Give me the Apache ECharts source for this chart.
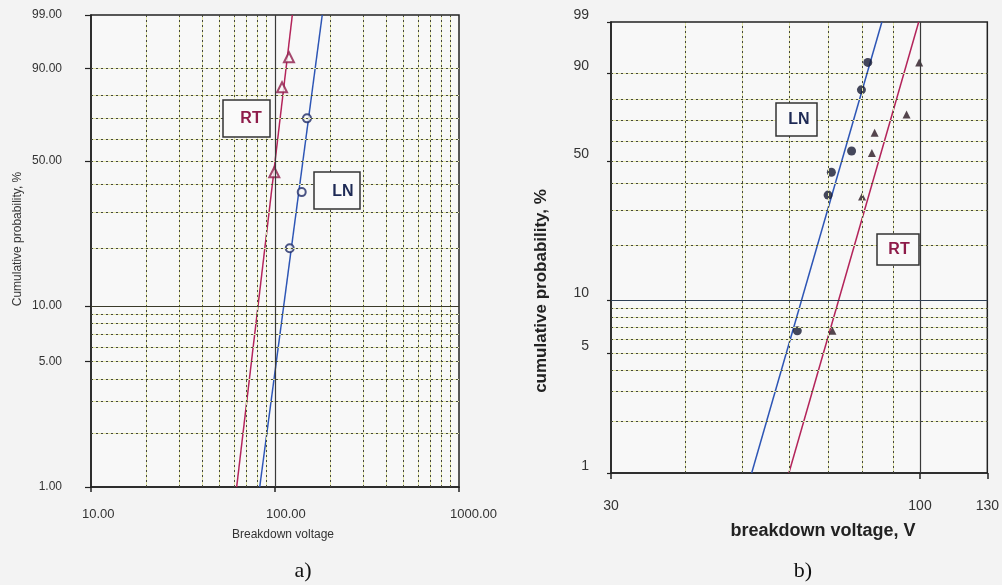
<!DOCTYPE html>
<html>
<head>
<meta charset="utf-8">
<title>Weibull breakdown plots</title>
<script src="https://cdn.jsdelivr.net/npm/echarts@6/dist/echarts.min.js"></script>
<style>
  html, body { margin: 0; padding: 0; background: #f3f3f3; }
  #main { width: 1002px; height: 585px; }
</style>
</head>
<body>
<div id="main"></div>
<script>
// ---- data (voltages in V, probabilities in %) ----
var probLabels = [1, 5, 10, 50, 90, 99];
var probGrid = [2, 3, 4, 5, 6, 7, 8, 9, 20, 30, 40, 50, 60, 70, 80, 90];
var voltGridA = [20, 30, 40, 50, 60, 70, 80, 90, 200, 300, 400, 500, 600, 700, 800, 900];
var voltGridB = [40, 50, 60, 70, 80, 90];
var voltLabelsB = [30, 100, 130];

// a) fitted lines (ends at 1 % and 99 %) and points
var fitP = [1, 99];
var rtA_fitV = [61.9, 124.2];
var lnA_fitV = [82.6, 180.6];
var rtA_V = [99.1, 109.2, 119.1];
var rtA_P = [45, 83.5, 93];
var lnA_V = [120.2, 139.7, 149.2];
var lnA_P = [20, 37, 70];

// b)
var lnB_fitV = [51.9, 86.2];
var rtB_fitV = [60.0, 99.5];
var lnB_V = [62.0, 69.9, 70.8, 76.6, 79.6, 81.6];
var lnB_P = [6.7, 35.5, 45, 55, 84, 93];
var rtB_V = [71.1, 79.8, 82.9, 83.8, 94.9, 99.7];
var rtB_P = [6.7, 35, 54, 64, 73, 93];

// weibull probability scale
function wb(p) { return Math.log(-Math.log(1 - p / 100)); }
function wbInv(w) { return (1 - Math.exp(-Math.exp(w))) * 100; }
function pairs(xs, ps) {
    var out = [];
    for (var i = 0; i < xs.length; i++) out.push([xs[i], wb(ps[i])]);
    return out;
}

var RED = '#b3245a', BLUE = '#2d55b5';
var FONT = '"Liberation Sans", Arial, sans-serif';

function gridMarks(xs, ys, solidX, solidY, solidColorY) {
    var d = [];
    xs.forEach(function (v) { d.push({ xAxis: v }); });
    ys.forEach(function (v) { d.push({ yAxis: wb(v) }); });
    var solid = [];
    solidX.forEach(function (v) { solid.push({ xAxis: v, lineStyle: { color: '#3a3a3a', type: 'solid', width: 1.2 } }); });
    solidY.forEach(function (v) { solid.push({ yAxis: wb(v), lineStyle: { color: solidColorY, type: 'solid', width: 1.2 } }); });
    return { dots: d, solid: solid };
}

var gA = gridMarks(voltGridA, probGrid, [100], [10], '#3a3a2a');
var gB = gridMarks(voltGridB, probGrid, [100], [10], '#2f3f55');

function helper(idx, marks, under) {
    return {
        type: 'line', xAxisIndex: idx, yAxisIndex: idx, data: [], silent: true, z: under ? 1 : 2,
        markLine: {
            silent: true, symbol: 'none', label: { show: false }, animation: false,
            lineStyle: under ? { color: '#e4e7a8', type: 'solid', width: 1 } : { color: '#45473c', type: [2, 3], width: 1 },
            data: marks
        }
    };
}

var yLabelA = {
    customValues: probLabels.map(wb),
    formatter: function (v) { return wbInv(v).toFixed(2); },
    fontFamily: FONT, fontSize: 12, color: '#333', margin: 29
};
var yLabelB = {
    customValues: probLabels.map(wb),
    formatter: function (v) { return String(Math.round(wbInv(v))); },
    fontFamily: FONT, fontSize: 14, color: '#333', margin: 22, verticalAlign: 'bottom'
};

var option = {
    backgroundColor: '#f3f3f3',
    animation: false,
    grid: [
        { left: 91, top: 15, width: 368, height: 472, show: true, backgroundColor: '#f8f8f8', borderColor: '#222', borderWidth: 1.5 },
        { left: 611, top: 22, width: 382, height: 451, show: true, backgroundColor: '#f8f8f8', borderColor: '#222', borderWidth: 1.5 }
    ],
    xAxis: [
        {
            type: 'log', logBase: 10, min: 10, max: 1000, gridIndex: 0,
            axisLine: { onZero: false, lineStyle: { color: '#222', width: 1.5 } },
            axisTick: { show: true, length: 5, lineStyle: { color: '#222', width: 1.5 } },
            axisLabel: { formatter: function (v) { return v.toFixed(2); }, fontFamily: FONT, fontSize: 13, color: '#333', margin: 21, align: 'left', padding: [0, 0, 0, -9] },
            splitLine: { show: false }, minorTick: { show: false }
        },
        {
            type: 'log', logBase: 10, min: 30, max: 130, gridIndex: 1,
            axisLine: { onZero: false, lineStyle: { color: '#222', width: 1.5 } },
            axisTick: { show: true, length: 6, customValues: voltLabelsB, lineStyle: { color: '#222', width: 1.5 } },
            axisLabel: { customValues: voltLabelsB, formatter: function (v) { return String(Math.round(v)); }, fontFamily: FONT, fontSize: 14, color: '#333', margin: 26 },
            splitLine: { show: false }
        }
    ],
    yAxis: [
        {
            type: 'value', min: wb(1), max: wb(99), gridIndex: 0,
            axisLine: { show: true, onZero: false, lineStyle: { color: '#222', width: 1.5 } },
            axisTick: { show: true, length: 6, customValues: probLabels.map(wb), lineStyle: { color: '#222', width: 1.2 } },
            axisLabel: yLabelA,
            splitLine: { show: false }
        },
        {
            type: 'value', min: wb(1), max: wb(99), gridIndex: 1,
            axisLine: { show: true, onZero: false, lineStyle: { color: '#222', width: 1.5 } },
            axisTick: { show: true, length: 4, customValues: probLabels.map(wb), lineStyle: { color: '#222', width: 1.2 } },
            axisLabel: yLabelB,
            splitLine: { show: false }
        }
    ],
    series: [
        helper(0, gA.dots, true),
        helper(0, gA.dots.concat(gA.solid), false),
        helper(1, gB.dots, true),
        helper(1, gB.dots.concat(gB.solid), false),
        // a)
        { name: 'RT fit a', type: 'line', xAxisIndex: 0, yAxisIndex: 0, z: 3, showSymbol: false, data: pairs(rtA_fitV, fitP), lineStyle: { color: RED, width: 1.5 } },
        { name: 'LN fit a', type: 'line', xAxisIndex: 0, yAxisIndex: 0, z: 3, showSymbol: false, data: pairs(lnA_fitV, fitP), lineStyle: { color: BLUE, width: 1.5 } },
        { name: 'RT a', type: 'scatter', xAxisIndex: 0, yAxisIndex: 0, z: 4, symbol: 'triangle', symbolSize: 10, data: pairs(rtA_V, rtA_P), itemStyle: { color: '#f8f8f8', borderColor: '#8e1c4a', borderWidth: 2 } },
        { name: 'LN a', type: 'scatter', xAxisIndex: 0, yAxisIndex: 0, z: 4, symbol: 'circle', symbolSize: 8, data: pairs(lnA_V, lnA_P), itemStyle: { color: '#f8f8f8', borderColor: '#1e2a66', borderWidth: 2 } },
        // b)
        { name: 'LN fit b', type: 'line', xAxisIndex: 1, yAxisIndex: 1, z: 3, showSymbol: false, data: pairs(lnB_fitV, fitP), lineStyle: { color: BLUE, width: 1.5 } },
        { name: 'RT fit b', type: 'line', xAxisIndex: 1, yAxisIndex: 1, z: 3, showSymbol: false, data: pairs(rtB_fitV, fitP), lineStyle: { color: RED, width: 1.5 } },
        { name: 'LN b', type: 'scatter', xAxisIndex: 1, yAxisIndex: 1, z: 4, symbol: 'circle', symbolSize: 9, data: pairs(lnB_V, lnB_P), itemStyle: { color: '#161a33' } },
        { name: 'RT b', type: 'scatter', xAxisIndex: 1, yAxisIndex: 1, z: 4, symbol: 'triangle', symbolSize: 8, data: pairs(rtB_V, rtB_P), itemStyle: { color: '#2a1822' } }
    ],
    graphic: [
        { type: 'text', x: 18, y: 239, rotation: Math.PI / 2, style: { text: 'Cumulative probability, %', font: '12px ' + FONT, fill: '#333', align: 'center', verticalAlign: 'middle' } },
        { type: 'text', x: 283, y: 535, style: { text: 'Breakdown voltage', font: '12px ' + FONT, fill: '#333', align: 'center', verticalAlign: 'middle' } },
        { type: 'text', x: 303, y: 571, style: { text: 'a)', font: '22px "Liberation Serif", "DejaVu Serif", serif', fill: '#111', align: 'center', verticalAlign: 'middle' } },
        { type: 'text', x: 541, y: 291, rotation: Math.PI / 2, style: { text: 'cumulative probability, %', font: 'bold 17px ' + FONT, fill: '#222', align: 'center', verticalAlign: 'middle' } },
        { type: 'text', x: 823, y: 531, style: { text: 'breakdown voltage, V', font: 'bold 18px ' + FONT, fill: '#222', align: 'center', verticalAlign: 'middle' } },
        { type: 'text', x: 803, y: 571, style: { text: 'b)', font: '22px "Liberation Serif", "DejaVu Serif", serif', fill: '#111', align: 'center', verticalAlign: 'middle' } },
        // label boxes
        { type: 'group', x: 223, y: 100, z: 10, children: [
            { type: 'rect', z: 10, shape: { x: 0, y: 0, width: 47, height: 37 }, style: { fill: '#fafafa', stroke: '#333', lineWidth: 1.5 } },
            { type: 'text', z: 11, x: 28, y: 19, style: { text: 'RT', font: 'bold 16px ' + FONT, fill: '#8e1c4a', align: 'center', verticalAlign: 'middle' } }
        ] },
        { type: 'group', x: 314, y: 172, z: 10, children: [
            { type: 'rect', z: 10, shape: { x: 0, y: 0, width: 46, height: 37 }, style: { fill: '#fafafa', stroke: '#333', lineWidth: 1.5 } },
            { type: 'text', z: 11, x: 29, y: 20, style: { text: 'LN', font: 'bold 16px ' + FONT, fill: '#1e2a55', align: 'center', verticalAlign: 'middle' } }
        ] },
        { type: 'group', x: 776, y: 103, z: 10, children: [
            { type: 'rect', z: 10, shape: { x: 0, y: 0, width: 41, height: 33 }, style: { fill: '#fafafa', stroke: '#333', lineWidth: 1.5 } },
            { type: 'text', z: 11, x: 23, y: 17, style: { text: 'LN', font: 'bold 16px ' + FONT, fill: '#1e2a55', align: 'center', verticalAlign: 'middle' } }
        ] },
        { type: 'group', x: 877, y: 234, z: 10, children: [
            { type: 'rect', z: 10, shape: { x: 0, y: 0, width: 42, height: 31 }, style: { fill: '#fafafa', stroke: '#333', lineWidth: 1.5 } },
            { type: 'text', z: 11, x: 22, y: 16, style: { text: 'RT', font: 'bold 16px ' + FONT, fill: '#8e1c4a', align: 'center', verticalAlign: 'middle' } }
        ] }
    ]
};

var myChart = echarts.init(document.getElementById('main'));
myChart.setOption(option);
window.addEventListener('resize', function () {
    myChart.resize();
});
</script>
</body>
</html>
